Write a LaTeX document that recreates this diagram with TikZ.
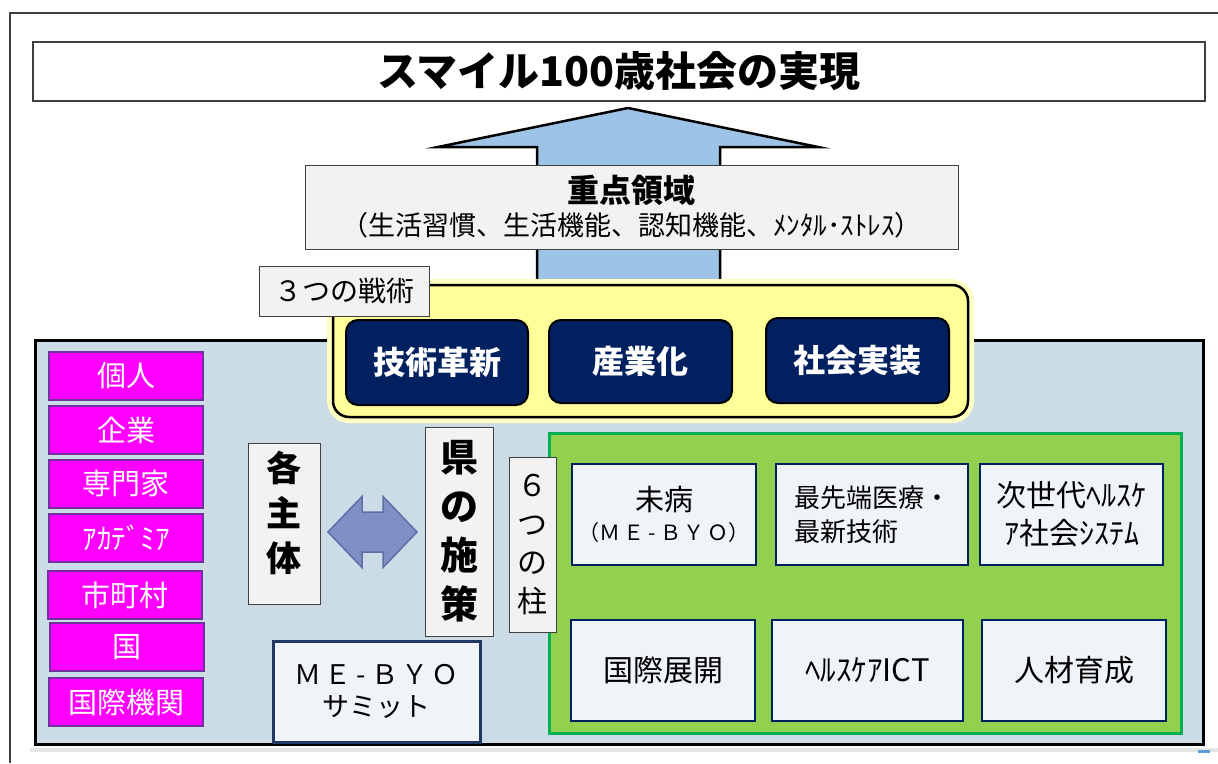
\documentclass[tikz,border=0pt]{standalone}
\usepackage{fontspec}
\setmainfont{Noto Sans CJK JP}
\usetikzlibrary{calc}
\definecolor{navy}{HTML}{002060}
\definecolor{mainbg}{HTML}{CCDCE6}
\definecolor{innerbg}{HTML}{F0F4F8}
\definecolor{labelbg}{HTML}{F2F2F2}
\definecolor{framegray}{HTML}{404040}
\definecolor{magentabox}{HTML}{FF00FF}
\definecolor{purpleedge}{HTML}{7030A0}
\definecolor{arrowblue}{HTML}{9DC3E6}
\definecolor{dblfill}{HTML}{7F90C6}
\definecolor{dbledge}{HTML}{5B6FA6}
\definecolor{greenfill}{HTML}{92D050}
\definecolor{greenedge}{HTML}{00B050}
\definecolor{yellowfill}{HTML}{FFFF99}
\definecolor{summitedge}{HTML}{1F3864}
\definecolor{stripgray}{HTML}{E6E6E6}
\definecolor{markblue}{HTML}{5B9BD5}
\newcommand{\fs}[1]{\fontsize{#1}{#1}\selectfont}
\newcommand{\mebyo}{Ｍ\hspace{0.12em}Ｅ\hspace{0.2em}-\hspace{0.2em}Ｂ\hspace{0.12em}Ｙ\hspace{0.12em}Ｏ}
\begin{document}
\begin{tikzpicture}[x=1pt,y=-1pt,
  every node/.style={inner sep=0pt, outer sep=0pt, anchor=north west},
  titlebox/.style={draw=framegray, line width=1.5pt, fill=white, font=\fs{41}\bfseries},
  labelbox/.style={draw=framegray, line width=1pt, fill=labelbg, align=center},
  tacticbox/.style={draw=black, line width=2pt, fill=navy, rounded corners=12pt, text=white, font=\fs{32}\bfseries},
  actorbox/.style={draw=purpleedge, line width=2.5pt, fill=magentabox, text=white, font=\fs{29}, minimum width=154pt, minimum height=48pt},
  pillarbox/.style={draw=navy, line width=2.5pt, fill=innerbg, align=center, minimum height=101pt}
]
\useasboundingbox (0,0) rectangle (1218,763);
% outer frame
\draw[framegray, line width=2pt] (9.5,763) -- (9.5,13) -- (1218,13);
% bottom strip
\fill[stripgray] (30,748) rectangle (1218,752);
\fill[markblue] (1198,750) rectangle (1210,753);
% title
\node[titlebox, minimum width=1172pt, minimum height=59pt] (title) at (33,42) {スマイル100歳社会の実現};
% big arrow
\draw[fill=arrowblue, line width=2.5pt, line join=miter] (537,300) -- (537,147) -- (438,147) -- (628,108) -- (818,147) -- (720,147) -- (720,300);
% main box
\node[draw=black, line width=3pt, fill=mainbg, minimum width=1168pt, minimum height=404pt] (main) at (35,340) {};
% focus area
\node[labelbox, minimum width=653pt, minimum height=84pt, font=\fontsize{27}{33}\selectfont] (focus) at (305,165)
  {{\fontsize{32}{33}\selectfont\bfseries 重点領域}\\{\fs{27}（生活習慣、生活機能、認知機能、ﾒﾝﾀﾙ･ｽﾄﾚｽ）}};
% yellow tactics frame
\node[draw=yellowfill!60, line width=6pt, rounded corners=19pt, minimum width=641pt, minimum height=138pt] (glow) at (330,282) {};
\node[draw=black, line width=2.5pt, fill=yellowfill, rounded corners=16pt, minimum width=635pt, minimum height=132pt] (tactics) at (333,285) {};
\node[labelbox, minimum width=170pt, minimum height=50pt, font=\fs{28}] (tlabel) at (259,266) {３つの戦術};
\node[tacticbox, minimum width=182pt, minimum height=85pt] (tech) at (346,320) {技術革新};
\node[tacticbox, minimum width=183pt, minimum height=83pt] (ind) at (549,320) {産業化};
\node[tacticbox, minimum width=183pt, minimum height=85pt] (soc) at (766,318) {社会実装};
% actors
\node[actorbox] (a1) at (49,352) {個人};
\node[actorbox] (a2) at (49,406) {企業};
\node[actorbox] (a3) at (49,460) {専門家};
\node[actorbox] (a4) at (49,514) {ｱｶﾃﾞﾐｱ};
\node[actorbox] (a5) at (48,571) {市町村};
\node[actorbox] (a6) at (50,623) {国};
\node[actorbox] (a7) at (49,678) {国際機関};
% vertical labels
\node[labelbox, minimum width=72pt, minimum height=161pt] (kaku) at (248,443) {};
\node[anchor=center, align=center, font=\fontsize{35}{45}\selectfont\bfseries] (kakutext) at ($(kaku.center)+(0,-11)$) {各\\主\\体};
\node[labelbox, minimum width=68pt, minimum height=209pt, font=\fontsize{38}{49}\selectfont\bfseries] (ken) at (425,427) {県\\の\\施\\策};
% double arrow between the two
\coordinate (both) at ($($(kaku.east)!0.5!(ken.west)$)+(0,4.5)$);
\draw[shift={(both)}, draw=dbledge, line width=1.5pt, fill=dblfill, line join=miter]
  (-44.5,0) -- (-10.5,-35.5) -- (-10.5,-20) -- (10.5,-20) -- (10.5,-35.5) -- (44.5,0)
  -- (10.5,35.5) -- (10.5,20) -- (-10.5,20) -- (-10.5,35.5) -- cycle;
% summit
\node[draw=summitedge, line width=3pt, fill=innerbg, align=center, minimum width=207pt, minimum height=101pt, font=\fontsize{27}{32}\selectfont] (summit) at (273,641)
  {{\fontsize{27}{32}\selectfont\mebyo}\\サミット};
% six pillars
\node[draw=greenedge, line width=3pt, fill=greenfill, minimum width=632pt, minimum height=300pt] (green) at (549,433) {};
\node[labelbox, minimum width=47pt, minimum height=175pt, font=\fontsize{30}{38.5}\selectfont] (six) at (509,457) {６\\つ\\の\\柱};
\node[pillarbox, minimum width=184pt, font=\fontsize{21}{30}\selectfont] (p1) at (572,464) {{\fs{29}未病}\\（\mebyo）};
\node[pillarbox, minimum width=192pt, align=left, font=\fontsize{26}{34}\selectfont] (p2) at (776,464) {最先端医療・\\最新技術};
\node[pillarbox, minimum width=183pt, font=\fontsize{30}{38}\selectfont] (p3) at (980,464) {次世代ﾍﾙｽｹ\\ｱ社会ｼｽﾃﾑ};
\node[pillarbox, minimum width=184pt, font=\fs{30}] (p4) at (571,620) {国際展開};
\node[pillarbox, minimum width=191pt, font=\fs{31}] (p5) at (772,620) {ﾍﾙｽｹｱICT};
\node[pillarbox, minimum width=184pt, font=\fs{30}] (p6) at (982,620) {人材育成};
\end{tikzpicture}
\end{document}
